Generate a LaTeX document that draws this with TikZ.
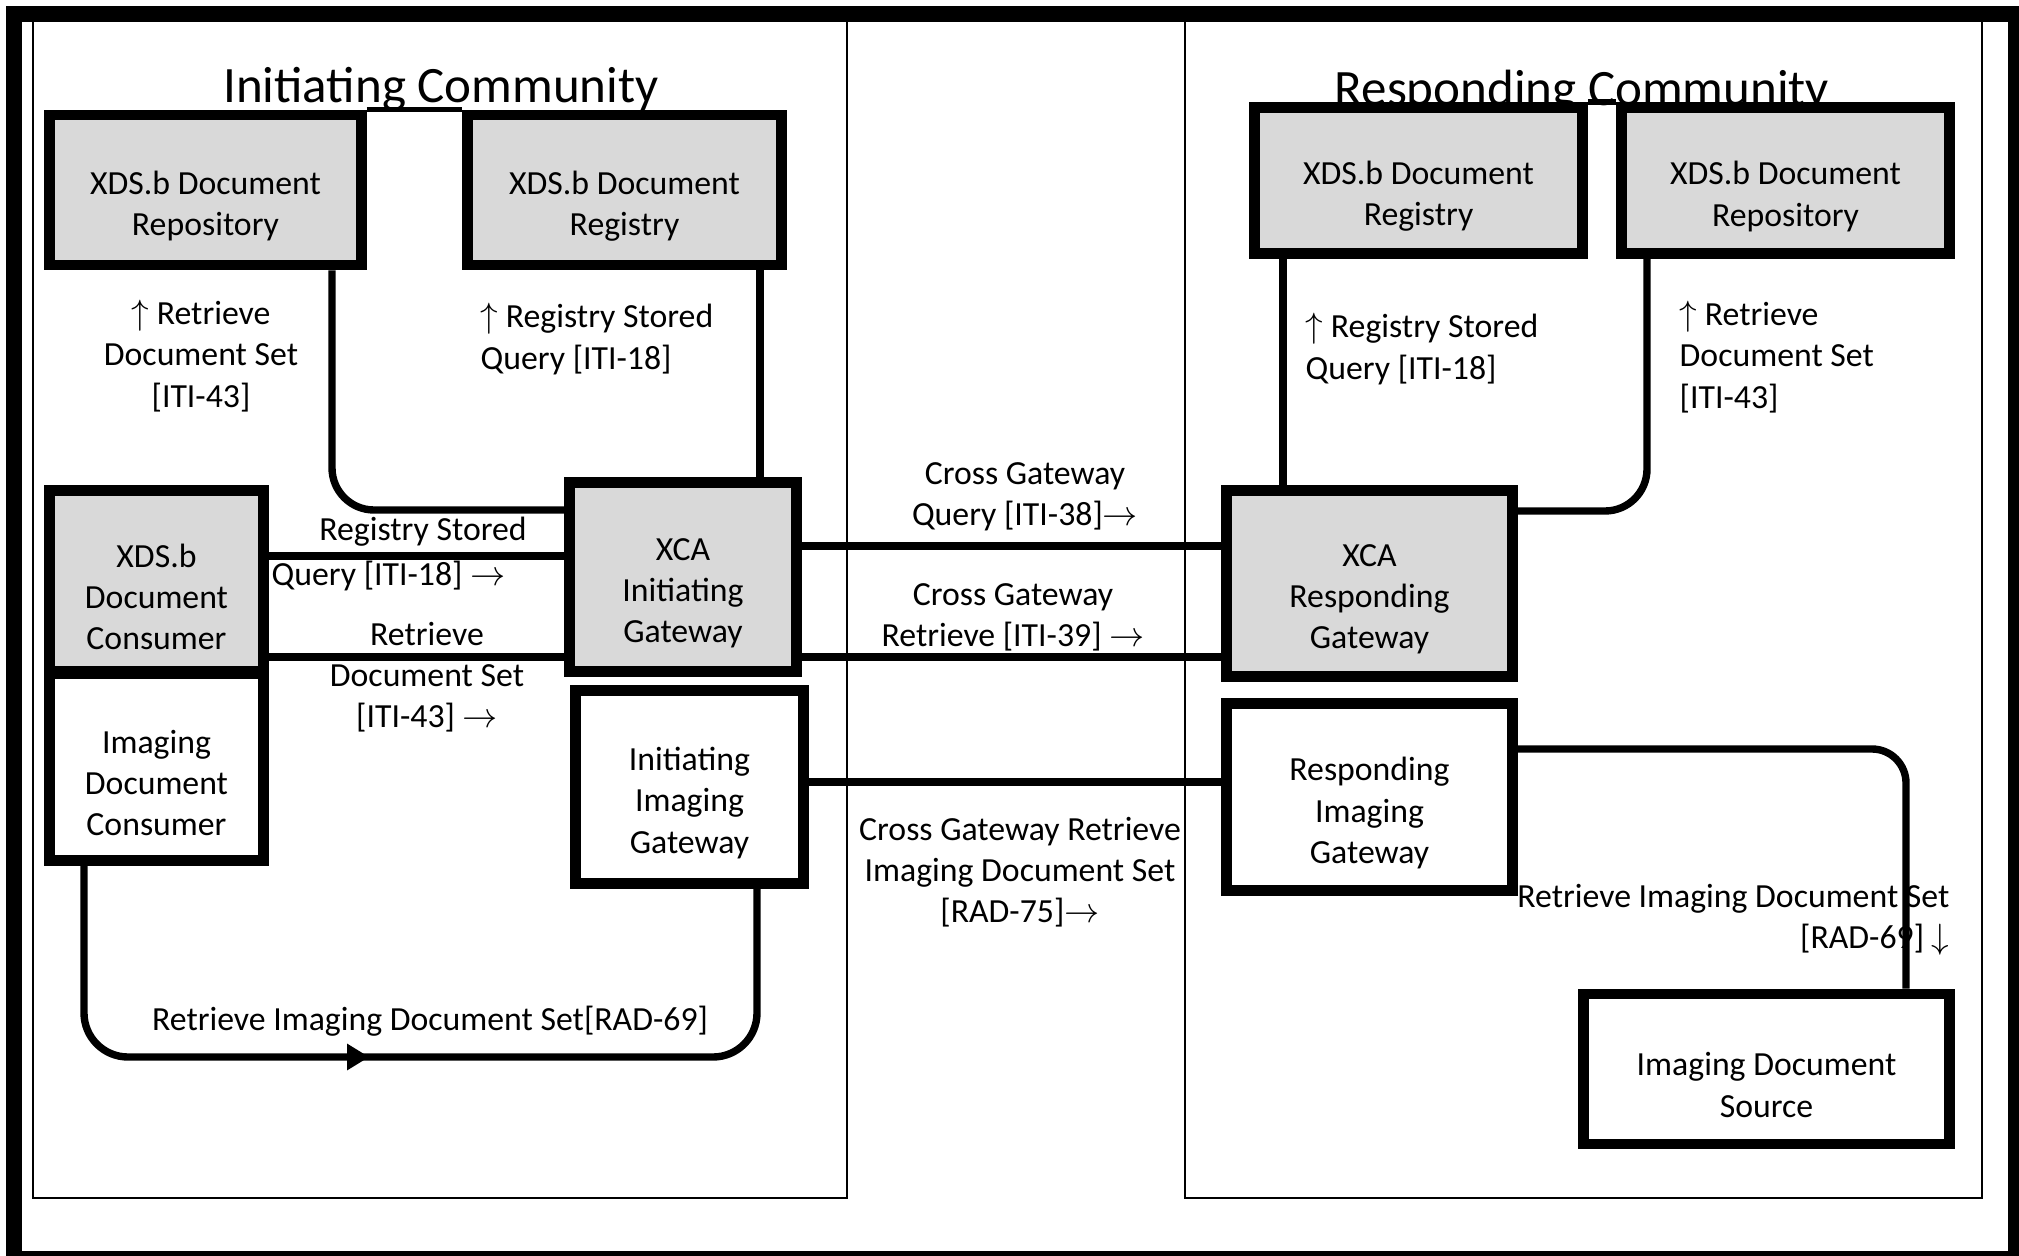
\documentclass[tikz,border=0pt]{standalone}
\usepackage{fontspec}
\setmainfont{Carlito}
\usetikzlibrary{arrows.meta,decorations.markings}
\definecolor{boxgray}{RGB}{217,217,217}
\newcommand{\lblsize}{\fontsize{9.6}{11.7}\selectfont}
\newcommand{\ttlsize}{\fontsize{14.5}{17}\selectfont}
\begin{document}
\begin{tikzpicture}[x=0.01cm, y=-0.01cm, every node/.style={font=\lblsize},
  lbl/.style={inner sep=0pt,align=center},
  actor/.style={draw,line width=3pt,inner sep=0pt,fill=white,label={[lbl,yshift=-0.16cm]center:#1}},
  link/.style={line width=2.1pt},
  frame/.style={line width=0.5pt}]
\useasboundingbox (0,0) rectangle (2019,1255);
\clip (0,0) rectangle (2019,1255);
% community frames
\draw[frame] (33,21) rectangle (847,1198);
\draw[frame] (1185,21) rectangle (1982,1198);
\node[font=\ttlsize,anchor=base] (ttlI) at (441,103) {Initiating Community};
\node[font=\ttlsize,anchor=base] (ttlR) at (1582,106) {Responding Community};
% initiating side
\node[actor={XDS.b Document\\Repository},fill=boxgray,minimum width=3.12cm,minimum height=1.5cm] (repoI) at (205.5,190) {};
\node[actor={XDS.b Document\\Registry},fill=boxgray,minimum width=3.14cm,minimum height=1.5cm] (regI) at (624.5,190) {};
\node[actor={XDS.b\\Document\\Consumer},fill=boxgray,minimum width=2.14cm,minimum height=1.81cm] (cons) at (156.5,581) {};
\node[actor={Imaging\\Document\\Consumer},minimum width=2.14cm,minimum height=1.87cm] (imgC) at (156.5,767) {};
\node[actor={XCA\\Initiating\\Gateway},fill=boxgray,minimum width=2.27cm,minimum height=1.89cm] (xcaI) at (683,577) {};
\node[actor={Initiating\\Imaging\\Gateway},minimum width=2.28cm,minimum height=1.93cm] (imgI) at (689.5,787) {};
% responding side
\node[actor={XDS.b Document\\Registry},fill=boxgray,minimum width=3.28cm,minimum height=1.46cm] (regR) at (1418.5,180.5) {};
\node[actor={XDS.b Document\\Repository},fill=boxgray,minimum width=3.28cm,minimum height=1.46cm] (repoR) at (1785.5,180.5) {};
\node[actor={XCA\\Responding\\Gateway},fill=boxgray,minimum width=2.86cm,minimum height=1.86cm] (xcaR) at (1369.5,583.5) {};
\node[actor={Responding\\Imaging\\Gateway},minimum width=2.86cm,minimum height=1.87cm] (imgR) at (1369.5,797) {};
\node[actor={Imaging Document\\Source},minimum width=3.66cm,minimum height=1.5cm] (src) at (1766.5,1069) {};
\draw[line width=1.6pt] (repoI.north east) -- (regI.north west);
\draw[line width=1.6pt] (regR.north east) -- (repoR.north west);
% transaction labels
\node[lbl] (retI) at (201,356) {$\uparrow$ Retrieve\\Document Set\\{}[ITI-43]};
\node[lbl,align=left,anchor=west] (rsqI) at (480,339) {$\uparrow$ Registry Stored\\Query [ITI-18]};
\node[lbl] (rsqCa) at (423,532) {Registry Stored};
\node[lbl,anchor=west] (rsqCb) at (271,576) {Query [ITI-18] $\rightarrow$};
\node[lbl] (retC) at (427,677) {Retrieve\\Document Set\\{}[ITI-43] $\rightarrow$};
\node[lbl] (xq38) at (1025,497) {Cross Gateway\\Query [ITI-38]$\rightarrow$};
\node[lbl] (xr39) at (1013,617) {Cross Gateway\\Retrieve [ITI-39] $\rightarrow$};
\node[lbl] (xr75) at (1020,872) {Cross Gateway Retrieve\\Imaging Document Set\\{}[RAD-75]$\rightarrow$};
\node[lbl,align=left,anchor=west] (rsqR) at (1305,349) {$\uparrow$ Registry Stored\\Query [ITI-18]};
\node[lbl,align=left,anchor=west] (retR) at (1679,357) {$\uparrow$ Retrieve\\Document Set\\{}[ITI-43]};
\node[lbl,align=right,anchor=east] (rad69R) at (1950,920) {Retrieve Imaging Document Set\\{}[RAD-69] $\downarrow$};
\node[lbl] (rad69I) at (430,1021) {Retrieve Imaging Document Set[RAD-69]};
% connectors
\draw[link,rounded corners=0.42cm] (repoI.south -| 332,0) |- (xcaI.west |- 0,510);
\draw[link] (regI.south -| 760,0) -- (xcaI.north -| 760,0);
\draw[link] (cons.east |- 0,556) -- (xcaI.west |- 0,556);
\draw[link] (cons.east |- 0,657) -- (xcaI.west |- 0,657);
\draw[link] (xcaI.east |- 0,546) -- (xcaR.west |- 0,546);
\draw[link] (xcaI.east |- 0,657) -- (xcaR.west |- 0,657);
\draw[link] (imgI.east |- 0,782) -- (imgR.west |- 0,782);
\draw[link] (regR.south -| 1283,0) -- (xcaR.north -| 1283,0);
\draw[link,rounded corners=0.42cm] (repoR.south -| 1647,0) |- (xcaR.east |- 0,511);
\draw[link,rounded corners=0.34cm] (imgR.east |- 0,749) -| (src.north -| 1906,0);
\coordinate (loopR) at (757,1057);
\draw[link,rounded corners=0.44cm,postaction={decorate},
  decoration={markings,mark=at position 0.46 with {\arrow{Triangle[length=0.22cm,width=0.25cm]}}}]
  (imgC.south -| 84,0) |- (loopR) -- (imgI.south -| loopR);
% outer border
\draw[line width=4.55pt] (14,14) rectangle (2016,1259);
\end{tikzpicture}
\end{document}
